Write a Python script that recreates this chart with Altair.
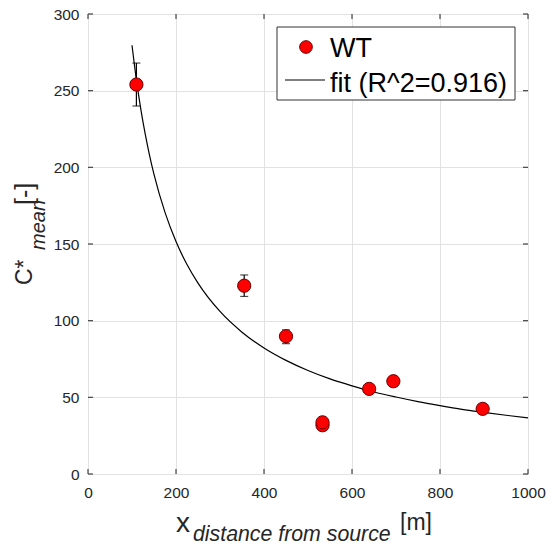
import altair as alt
import pandas as pd

# ---- data ----
x_ticks = [0, 200, 400, 600, 800, 1000]
y_ticks = [0, 50, 100, 150, 200, 250, 300]

wt_x = [110, 355, 450, 533, 533, 639, 694, 897]
wt_y = [254, 122.8, 89.8, 31.8, 33.7, 55.5, 60.5, 42.5]
err_lo = [240, 115.8, 85, 30.5, 32.5, 54.0, 59.0, 41.5]
err_hi = [268, 129.8, 94, 33.0, 35.0, 57.0, 62.0, 43.5]

fit_x = [100, 110, 120, 130, 140, 150, 175, 200, 225, 250, 300, 350, 400,
         450, 500, 550, 600, 650, 700, 750, 800, 850, 900, 950, 1000]
fit_y = [279.6, 257.0, 238.0, 221.8, 207.7, 195.4, 170.6, 151.6, 136.6, 124.5,
         106.0, 92.5, 82.2, 74.1, 67.5, 62.0, 57.5, 53.5, 50.2, 47.2, 44.6,
         42.2, 40.2, 38.3, 36.6]

legend_labels = ["WT", "fit (R^2=0.916)"]

W, H = 440, 460
FONT = "Liberation Sans"
TXT = "#262626"

pts = pd.DataFrame({"x": wt_x, "y": wt_y, "lo": err_lo, "hi": err_hi})
fit = pd.DataFrame({"x": fit_x, "y": fit_y})
xt = pd.DataFrame({"v": x_ticks})
yt = pd.DataFrame({"v": y_ticks})

xs = alt.Scale(domain=[0, 1000], nice=False, zero=False)
ys = alt.Scale(domain=[0, 300], nice=False, zero=False)

xaxis = alt.Axis(values=x_ticks, grid=True, ticks=False, domain=False, title=None,
                 format="d", labelPadding=11, labelFont=FONT, labelFontSize=15.5,
                 labelColor=TXT, gridColor="#e2e2e2", labelFlush=False,
                 labelOverlap=False)
yaxis = alt.Axis(values=y_ticks, grid=True, ticks=False, domain=False, title=None,
                 format="d", labelPadding=9, labelFont=FONT, labelFontSize=15.5,
                 labelColor=TXT, gridColor="#e2e2e2", labelOverlap=False)


def X(f):
    return alt.X(f, scale=xs, axis=xaxis)


def Y(f):
    return alt.Y(f, scale=ys, axis=yaxis)


fit_line = alt.Chart(fit).mark_line(color="black", strokeWidth=1.2, clip=True,
                                    interpolate="monotone").encode(
    x=X("x:Q"), y=Y("y:Q"))

err_rule = alt.Chart(pts).mark_rule(color="black", strokeWidth=1.2).encode(
    x=X("x:Q"), y=Y("lo:Q"), y2="hi:Q")
cap_lo = alt.Chart(pts).mark_tick(color="black", thickness=1.2, size=8,
                                  orient="horizontal").encode(
    x=X("x:Q"), y=Y("lo:Q"))
cap_hi = alt.Chart(pts).mark_tick(color="black", thickness=1.2, size=8,
                                  orient="horizontal").encode(
    x=X("x:Q"), y=Y("hi:Q"))

points = alt.Chart(pts).mark_point(shape="circle", filled=True, fill="#ff0000",
                                   stroke="#6a0000", strokeWidth=1, size=175,
                                   opacity=1).encode(x=X("x:Q"), y=Y("y:Q"))

# inward ticks on all four sides
tk = dict(color="#444444", strokeWidth=1.2)
xb = alt.Chart(xt).mark_rule(**tk).encode(x=X("v:Q"),
                                          y=alt.value(H), y2=alt.value(H - 5))
xtp = alt.Chart(xt).mark_rule(**tk).encode(x=X("v:Q"),
                                           y=alt.value(0), y2=alt.value(5))
yl = alt.Chart(yt).mark_rule(**tk).encode(y=Y("v:Q"),
                                          x=alt.value(0), x2=alt.value(5))
yr = alt.Chart(yt).mark_rule(**tk).encode(y=Y("v:Q"),
                                          x=alt.value(W), x2=alt.value(W - 5))


def txt(s, x, y, size, italic=False, angle=0, color=TXT):
    kw = dict(font=FONT, fontSize=size, color=color, align="left",
              baseline="alphabetic")
    if italic:
        kw["fontStyle"] = "italic"
    enc = dict(text="t:N", x=alt.value(x), y=alt.value(y))
    if angle:
        kw["angle"] = angle
        enc["angle"] = alt.value(angle)
    return alt.Chart(pd.DataFrame({"t": [s]})).mark_text(**kw).encode(**enc)


# axis titles
titles = [
    txt("x", 88, 518, 28),
    txt("distance from source", 105, 527, 21.3, italic=True),
    txt("[m]", 312, 516, 23),
    txt("C*", -56, 271, 23, angle=270),
    txt("mean", -43, 236, 20, italic=True, angle=270),
    txt("[-]", -55, 191, 25, angle=270),
]

# legend
one = pd.DataFrame({"a": [0]})
leg_box = alt.Chart(one).mark_rect(
    fill="white", stroke="#333333", strokeWidth=1).encode(
    x=alt.value(189), x2=alt.value(427), y=alt.value(13), y2=alt.value(86))
leg_pt = alt.Chart(one).mark_point(
    shape="circle", filled=True, fill="#ff0000", stroke="#6a0000", strokeWidth=1,
    size=160, opacity=1).encode(x=alt.value(218), y=alt.value(33))
leg_line = alt.Chart(one).mark_rule(color="black", strokeWidth=1.2).encode(
    x=alt.value(197), x2=alt.value(237), y=alt.value(66))
leg_txt = [
    txt(legend_labels[0], 242, 43, 27, color="black"),
    txt(legend_labels[1], 242, 78, 27, color="black"),
]

chart = alt.layer(
    fit_line, err_rule, cap_lo, cap_hi, points, xb, xtp, yl, yr,
    *titles, leg_box, leg_pt, leg_line, *leg_txt
).properties(
    width=W, height=H,
    autosize=alt.AutoSizeParams(type="none"),
    padding={"left": 88, "top": 14, "right": 18, "bottom": 73},
).configure_view(stroke="#444444", strokeWidth=1.3).configure(background="white")

chart.save("out.html", embed_options={"renderer": "svg", "actions": False})
